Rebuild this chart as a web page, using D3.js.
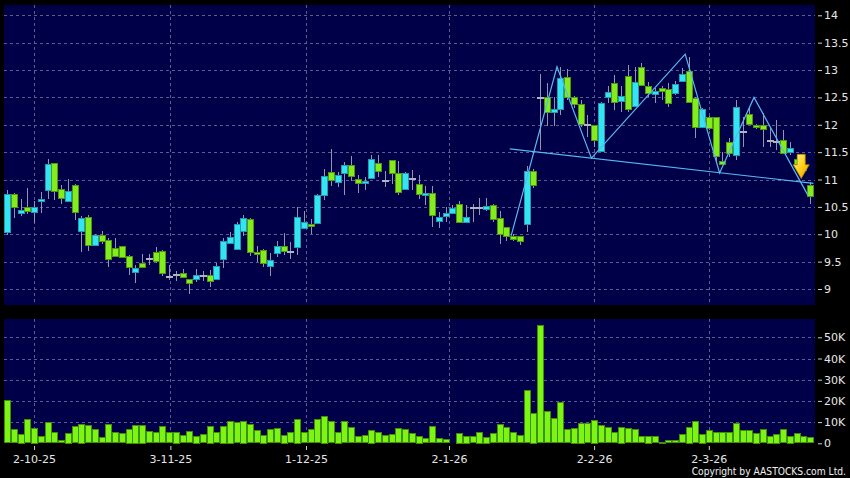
<!DOCTYPE html>
<html>
<head>
<meta charset="utf-8">
<script src="https://cdn.jsdelivr.net/npm/d3@7"></script>
<style>
  body { margin: 0; background: #000; }
  svg { display: block; }
  .axis text { fill: #e6e6e6; font-family: "DejaVu Sans", Verdana, sans-serif; font-size: 11px; }
  .axis line { stroke: #cfcfcf; }
  .axis path { display: none; }
</style>
</head>
<body>
<svg id="chart" width="850" height="478"></svg>
<script>
// daily candles, oldest first
var opens = [
  10.05, 10.74, 10.39, 10.49, 10.40, 10.60, 10.80, 11.30, 10.82, 10.60,
  10.90, 10.06, 10.31, 9.80, 9.99, 9.89, 9.74, 9.78, 9.61, 9.31,
  9.48, 9.56, 9.68, 9.70, 9.24, 9.27, 9.29, 9.18, 9.18, 9.25,
  9.25, 9.18, 9.54, 9.84, 9.73, 10.07, 10.28, 9.68, 9.72, 9.42,
  9.66, 9.79, 9.70, 9.76, 10.11, 10.18, 10.20, 10.72, 11.13, 10.96,
  11.11, 11.26, 11.01, 10.93, 11.02, 11.30, 10.99, 11.35, 11.12, 10.82,
  11.02, 10.92, 10.72, 10.75, 10.23, 10.33, 10.38, 10.55, 10.22, 10.50,
  10.50, 10.45, 10.54, 10.30, 10.13, 9.96, 9.96, 10.20, 11.16, 12.51,
  12.51, 12.23, 12.28, 12.88, 12.51, 12.38, 12.02, 11.99, 11.51, 12.50,
  12.76, 12.44, 12.90, 12.36, 13.05, 12.71, 12.56, 12.67, 12.65, 12.59,
  12.79, 12.99, 12.49, 11.96, 12.14, 12.14, 11.33, 11.69, 11.46, 11.89,
  12.19, 11.99, 12.00, 11.72, 11.71, 11.72, 11.51, 11.37, 11.25, 10.90
];
var highs = [
  10.80, 10.76, 10.64, 10.84, 10.61, 10.77, 11.37, 11.31, 10.90, 11.01,
  10.91, 10.33, 10.35, 10.00, 10.06, 9.94, 9.93, 9.79, 9.62, 9.44,
  9.64, 9.64, 9.77, 9.71, 9.44, 9.32, 9.37, 9.18, 9.36, 9.33,
  9.34, 9.47, 9.93, 10.05, 10.22, 10.36, 10.29, 9.79, 9.73, 9.66,
  9.87, 10.02, 9.86, 10.49, 10.43, 10.28, 10.73, 11.19, 11.55, 11.13,
  11.32, 11.43, 11.09, 11.04, 11.45, 11.45, 11.15, 11.36, 11.34, 11.13,
  11.18, 11.09, 10.88, 10.88, 10.40, 10.50, 10.53, 10.61, 10.53, 10.56,
  10.66, 10.66, 10.55, 10.43, 10.14, 10.00, 9.97, 11.25, 11.20, 12.93,
  12.76, 12.50, 13.06, 13.01, 12.52, 12.45, 12.18, 12.00, 12.42, 12.70,
  12.91, 12.71, 13.09, 13.06, 13.12, 12.79, 12.67, 12.71, 12.76, 12.80,
  13.03, 13.24, 12.50, 12.30, 12.16, 12.15, 11.51, 11.75, 12.45, 12.15,
  12.30, 12.02, 12.21, 11.94, 12.09, 11.91, 11.69, 11.45, 11.30, 10.96
];
var lows = [
  9.99, 10.30, 10.34, 10.37, 10.20, 10.39, 10.64, 10.62, 10.55, 10.59,
  10.26, 9.67, 9.69, 9.78, 9.83, 9.41, 9.58, 9.56, 9.25, 9.11,
  9.38, 9.44, 9.47, 9.24, 9.17, 9.14, 9.21, 8.91, 9.12, 9.14,
  9.04, 9.17, 9.39, 9.83, 9.72, 9.96, 9.61, 9.49, 9.41, 9.24,
  9.59, 9.63, 9.55, 9.63, 10.10, 10.00, 10.19, 10.63, 10.89, 10.87,
  10.72, 10.98, 10.76, 10.80, 11.01, 11.04, 10.87, 10.92, 10.71, 10.81,
  10.81, 10.65, 10.53, 10.14, 10.11, 10.23, 10.37, 10.22, 10.20, 10.23,
  10.36, 10.43, 10.22, 9.82, 9.87, 9.87, 9.80, 10.05, 10.84, 11.54,
  11.97, 11.97, 12.18, 12.45, 12.30, 11.96, 11.78, 11.60, 11.50, 12.39,
  12.27, 12.24, 12.24, 12.33, 12.70, 12.51, 12.39, 12.45, 12.33, 12.55,
  12.78, 12.41, 11.76, 11.95, 11.90, 11.33, 11.26, 11.42, 11.36, 11.60,
  11.99, 11.92, 11.60, 11.60, 11.54, 11.46, 11.44, 11.21, 11.12, 10.56
];
var closes = [
  10.74, 10.50, 10.44, 10.42, 10.49, 10.64, 11.28, 10.78, 10.66, 10.79,
  10.40, 10.30, 9.80, 9.98, 9.88, 9.55, 9.59, 9.58, 9.40, 9.39,
  9.41, 9.56, 9.52, 9.29, 9.24, 9.27, 9.22, 9.11, 9.25, 9.25,
  9.14, 9.42, 9.87, 9.95, 10.18, 10.30, 9.68, 9.64, 9.49, 9.53,
  9.79, 9.70, 9.70, 10.31, 10.22, 10.15, 10.72, 11.06, 10.99, 11.08,
  11.26, 11.05, 10.93, 10.97, 11.37, 11.15, 10.99, 11.11, 10.77, 11.12,
  11.02, 10.73, 10.75, 10.34, 10.31, 10.39, 10.48, 10.23, 10.31, 10.50,
  10.50, 10.51, 10.28, 10.00, 9.96, 9.90, 9.86, 11.16, 10.90, 12.51,
  12.24, 12.28, 12.85, 12.51, 12.38, 12.02, 12.02, 11.71, 12.39, 12.59,
  12.42, 12.53, 12.30, 12.79, 12.72, 12.59, 12.61, 12.61, 12.39, 12.75,
  12.92, 12.42, 11.96, 12.28, 11.93, 11.42, 11.28, 11.48, 12.33, 11.89,
  12.00, 11.95, 11.93, 11.72, 11.71, 11.48, 11.58, 11.27, 11.18, 10.70
];
// volume in thousands of shares
var volumes = [
  20.4, 6.8, 4.6, 11.5, 7.4, 3.5, 9.9, 5.3, 1.4, 5.0,
  8.0, 9.3, 8.6, 6.6, 2.8, 9.1, 5.3, 4.7, 6.9, 8.8,
  8.8, 5.7, 5.2, 8.0, 5.3, 5.5, 3.9, 5.7, 3.6, 4.2,
  8.3, 5.2, 8.3, 10.7, 9.9, 10.7, 9.1, 6.1, 4.1, 6.6,
  7.1, 4.1, 5.2, 11.6, 5.2, 6.6, 11.5, 13.1, 10.4, 5.5,
  10.4, 7.7, 3.5, 3.9, 6.4, 5.2, 3.9, 4.2, 7.1, 6.6,
  4.7, 3.6, 2.4, 8.2, 2.4, 1.9, 0.5, 5.0, 3.6, 3.5,
  5.5, 3.1, 4.9, 9.1, 7.5, 5.2, 3.9, 25.2, 14.5, 55.7,
  15.3, 11.8, 19.3, 6.6, 7.4, 9.7, 9.6, 11.2, 8.5, 7.7,
  5.2, 7.9, 7.1, 6.8, 3.3, 3.6, 3.5, 0.8, 1.6, 1.6,
  4.4, 7.9, 10.5, 4.6, 6.3, 5.3, 5.2, 5.2, 9.4, 6.3,
  6.1, 5.0, 6.8, 3.6, 4.6, 6.8, 3.6, 4.7, 3.5, 2.8
];

// date labels on the time axis and the candle slot they sit on
var tickLabels = ["2-10-25", "3-11-25", "1-12-25", "2-1-26", "2-2-26", "2-3-26"];
var tickIdx = [4, 24.2, 44.3, 65.5, 87, 104];
var priceTicks = [9, 9.5, 10, 10.5, 11, 11.5, 12, 12.5, 13, 13.5, 14];
var volTicks = [0, 10, 20, 30, 40, 50];

// drawn pattern: head & shoulders zigzag, neckline, breakdown arrow
var zigzag = [[74.7, 9.97], [81.5, 13.06], [86.6, 11.39], [100.5, 13.29], [105.6, 11.12], [110.7, 12.50], [118.7, 10.71]];
var neckline = [[74.5, 11.56], [119.5, 10.93]];
var arrowMark = {idx: 117.7, top: 11.46, neck: 11.27, tip: 11.02};

var svg = d3.select("#chart");

var mainBox = {left: 4, right: 815, top: 5, bottom: 305};
var volBox = {left: 4, right: 815, top: 319, bottom: 443};

var x = d3.scaleLinear().domain([0, opens.length - 1]).range([7.1, 810]);
var y = d3.scaleLinear().domain([9, 14]).range([289, 15.3]);
var yv = d3.scaleLinear().domain([0, 50]).range([443.3, 337.3]);

var upFill = "#35e4f2", upEdge = "#1f9cb0";
var dnFill = "#84ec1c", dnEdge = "#4d9a12";
var gridColor = "#5c5c92";

// panels
[mainBox, volBox].forEach(function(b) {
    svg.append("rect")
        .attr("x", b.left).attr("y", b.top)
        .attr("width", b.right - b.left).attr("height", b.bottom - b.top)
        .attr("fill", "#000048");
});

// grid
var grid = svg.append("g")
    .attr("stroke", gridColor)
    .attr("stroke-dasharray", "3,3")
    .attr("shape-rendering", "crispEdges");

grid.selectAll("line.hp").data(priceTicks).enter().append("line")
    .attr("x1", mainBox.left).attr("x2", mainBox.right)
    .attr("y1", function(d) { return Math.round(y(d)) + 0.5; })
    .attr("y2", function(d) { return Math.round(y(d)) + 0.5; });

grid.selectAll("line.hv").data(volTicks.slice(1)).enter().append("line")
    .attr("x1", volBox.left).attr("x2", volBox.right)
    .attr("y1", function(d) { return Math.round(yv(d)) + 0.5; })
    .attr("y2", function(d) { return Math.round(yv(d)) + 0.5; });

[mainBox, volBox].forEach(function(b) {
    grid.append("g").selectAll("line").data(tickIdx).enter().append("line")
        .attr("x1", function(d) { return Math.round(x(d)) + 0.5; })
        .attr("x2", function(d) { return Math.round(x(d)) + 0.5; })
        .attr("y1", b.top).attr("y2", b.bottom);
});

// candles
var candles = svg.append("g").attr("shape-rendering", "crispEdges");
var idx = d3.range(opens.length);

candles.selectAll("line.wick").data(idx).enter().append("line")
    .attr("x1", function(i) { return Math.round(x(i)) + 0.5; })
    .attr("x2", function(i) { return Math.round(x(i)) + 0.5; })
    .attr("y1", function(i) { return y(highs[i]); })
    .attr("y2", function(i) { return y(lows[i]); })
    .attr("stroke", "#9494aa");

candles.selectAll("rect.body").data(idx.filter(function(i) { return opens[i] !== closes[i]; }))
    .enter().append("rect")
    .attr("x", function(i) { return Math.round(x(i)) - 2.5; })
    .attr("width", 6)
    .attr("y", function(i) { return Math.round(y(Math.max(opens[i], closes[i]))) + 0.5; })
    .attr("height", function(i) { return Math.max(2, Math.round(Math.abs(y(opens[i]) - y(closes[i])))); })
    .attr("fill", function(i) { return closes[i] > opens[i] ? upFill : dnFill; })
    .attr("stroke", function(i) { return closes[i] > opens[i] ? upEdge : dnEdge; });

candles.selectAll("line.doji").data(idx.filter(function(i) { return opens[i] === closes[i]; }))
    .enter().append("line")
    .attr("x1", function(i) { return Math.round(x(i)) - 3; })
    .attr("x2", function(i) { return Math.round(x(i)) + 4; })
    .attr("y1", function(i) { return Math.round(y(closes[i])) + 0.5; })
    .attr("y2", function(i) { return Math.round(y(closes[i])) + 0.5; })
    .attr("stroke", "#b4b4c0")
    .attr("stroke-width", 2);

// pattern lines
var pline = d3.line()
    .x(function(d) { return x(d[0]); })
    .y(function(d) { return y(d[1]); });

svg.append("path").datum(neckline).attr("d", pline)
    .attr("fill", "none").attr("stroke", "#58b8f0").attr("stroke-width", 1.2);
svg.append("path").datum(zigzag).attr("d", pline)
    .attr("fill", "none").attr("stroke", "#58b8f0").attr("stroke-width", 1.2);

// breakdown arrow
var defs = svg.append("defs");
var grad = defs.append("linearGradient").attr("id", "arrowGrad")
    .attr("x1", 0).attr("y1", 0).attr("x2", 1).attr("y2", 1);
grad.append("stop").attr("offset", "0%").attr("stop-color", "#fff59a");
grad.append("stop").attr("offset", "50%").attr("stop-color", "#ffd21a");
grad.append("stop").attr("offset", "100%").attr("stop-color", "#e39a00");

var ax = x(arrowMark.idx), aTop = y(arrowMark.top), aNeck = y(arrowMark.neck), aTip = y(arrowMark.tip);
svg.append("path")
    .attr("d", "M" + (ax - 4) + "," + aTop + "H" + (ax + 4) + "V" + aNeck +
        "H" + (ax + 8) + "L" + ax + "," + aTip + "L" + (ax - 8) + "," + aNeck +
        "H" + (ax - 4) + "Z")
    .attr("fill", "url(#arrowGrad)")
    .attr("stroke", "#b98200")
    .attr("stroke-width", 0.8);

// volume bars
svg.append("g").attr("shape-rendering", "crispEdges")
    .selectAll("rect").data(idx).enter().append("rect")
    .attr("x", function(i) { return Math.round(x(i)) - 2.5; })
    .attr("width", 6)
    .attr("y", function(i) { return Math.round(yv(volumes[i])) + 0.5; })
    .attr("height", function(i) { return Math.max(0, Math.round(yv(0) - yv(volumes[i])) - 1); })
    .attr("fill", "#7cf514")
    .attr("stroke", "#3f8f08");

// axes
svg.append("g").attr("class", "axis")
    .attr("transform", "translate(818,0)")
    .call(d3.axisRight(y).tickValues(priceTicks).tickSize(4).tickPadding(2)
        .tickFormat(d3.format("~g")));

svg.append("g").attr("class", "axis")
    .attr("transform", "translate(818,0)")
    .call(d3.axisRight(yv).tickValues(volTicks).tickSize(4).tickPadding(2)
        .tickFormat(function(d) { return d === 0 ? "0" : d + "K"; }));

svg.append("g").attr("class", "axis")
    .attr("transform", "translate(0,446)")
    .call(d3.axisBottom(x).tickValues(tickIdx).tickSize(4).tickPadding(5)
        .tickFormat(function(d, i) { return tickLabels[i]; }));

svg.append("text")
    .attr("x", 846).attr("y", 475)
    .attr("text-anchor", "end")
    .attr("fill", "#f0f0f0")
    .style("font-family", "'DejaVu Sans Condensed', 'DejaVu Sans', sans-serif")
    .style("font-size", "10.2px")
    .text("Copyright by AASTOCKS.com Ltd.");
</script>
</body>
</html>
